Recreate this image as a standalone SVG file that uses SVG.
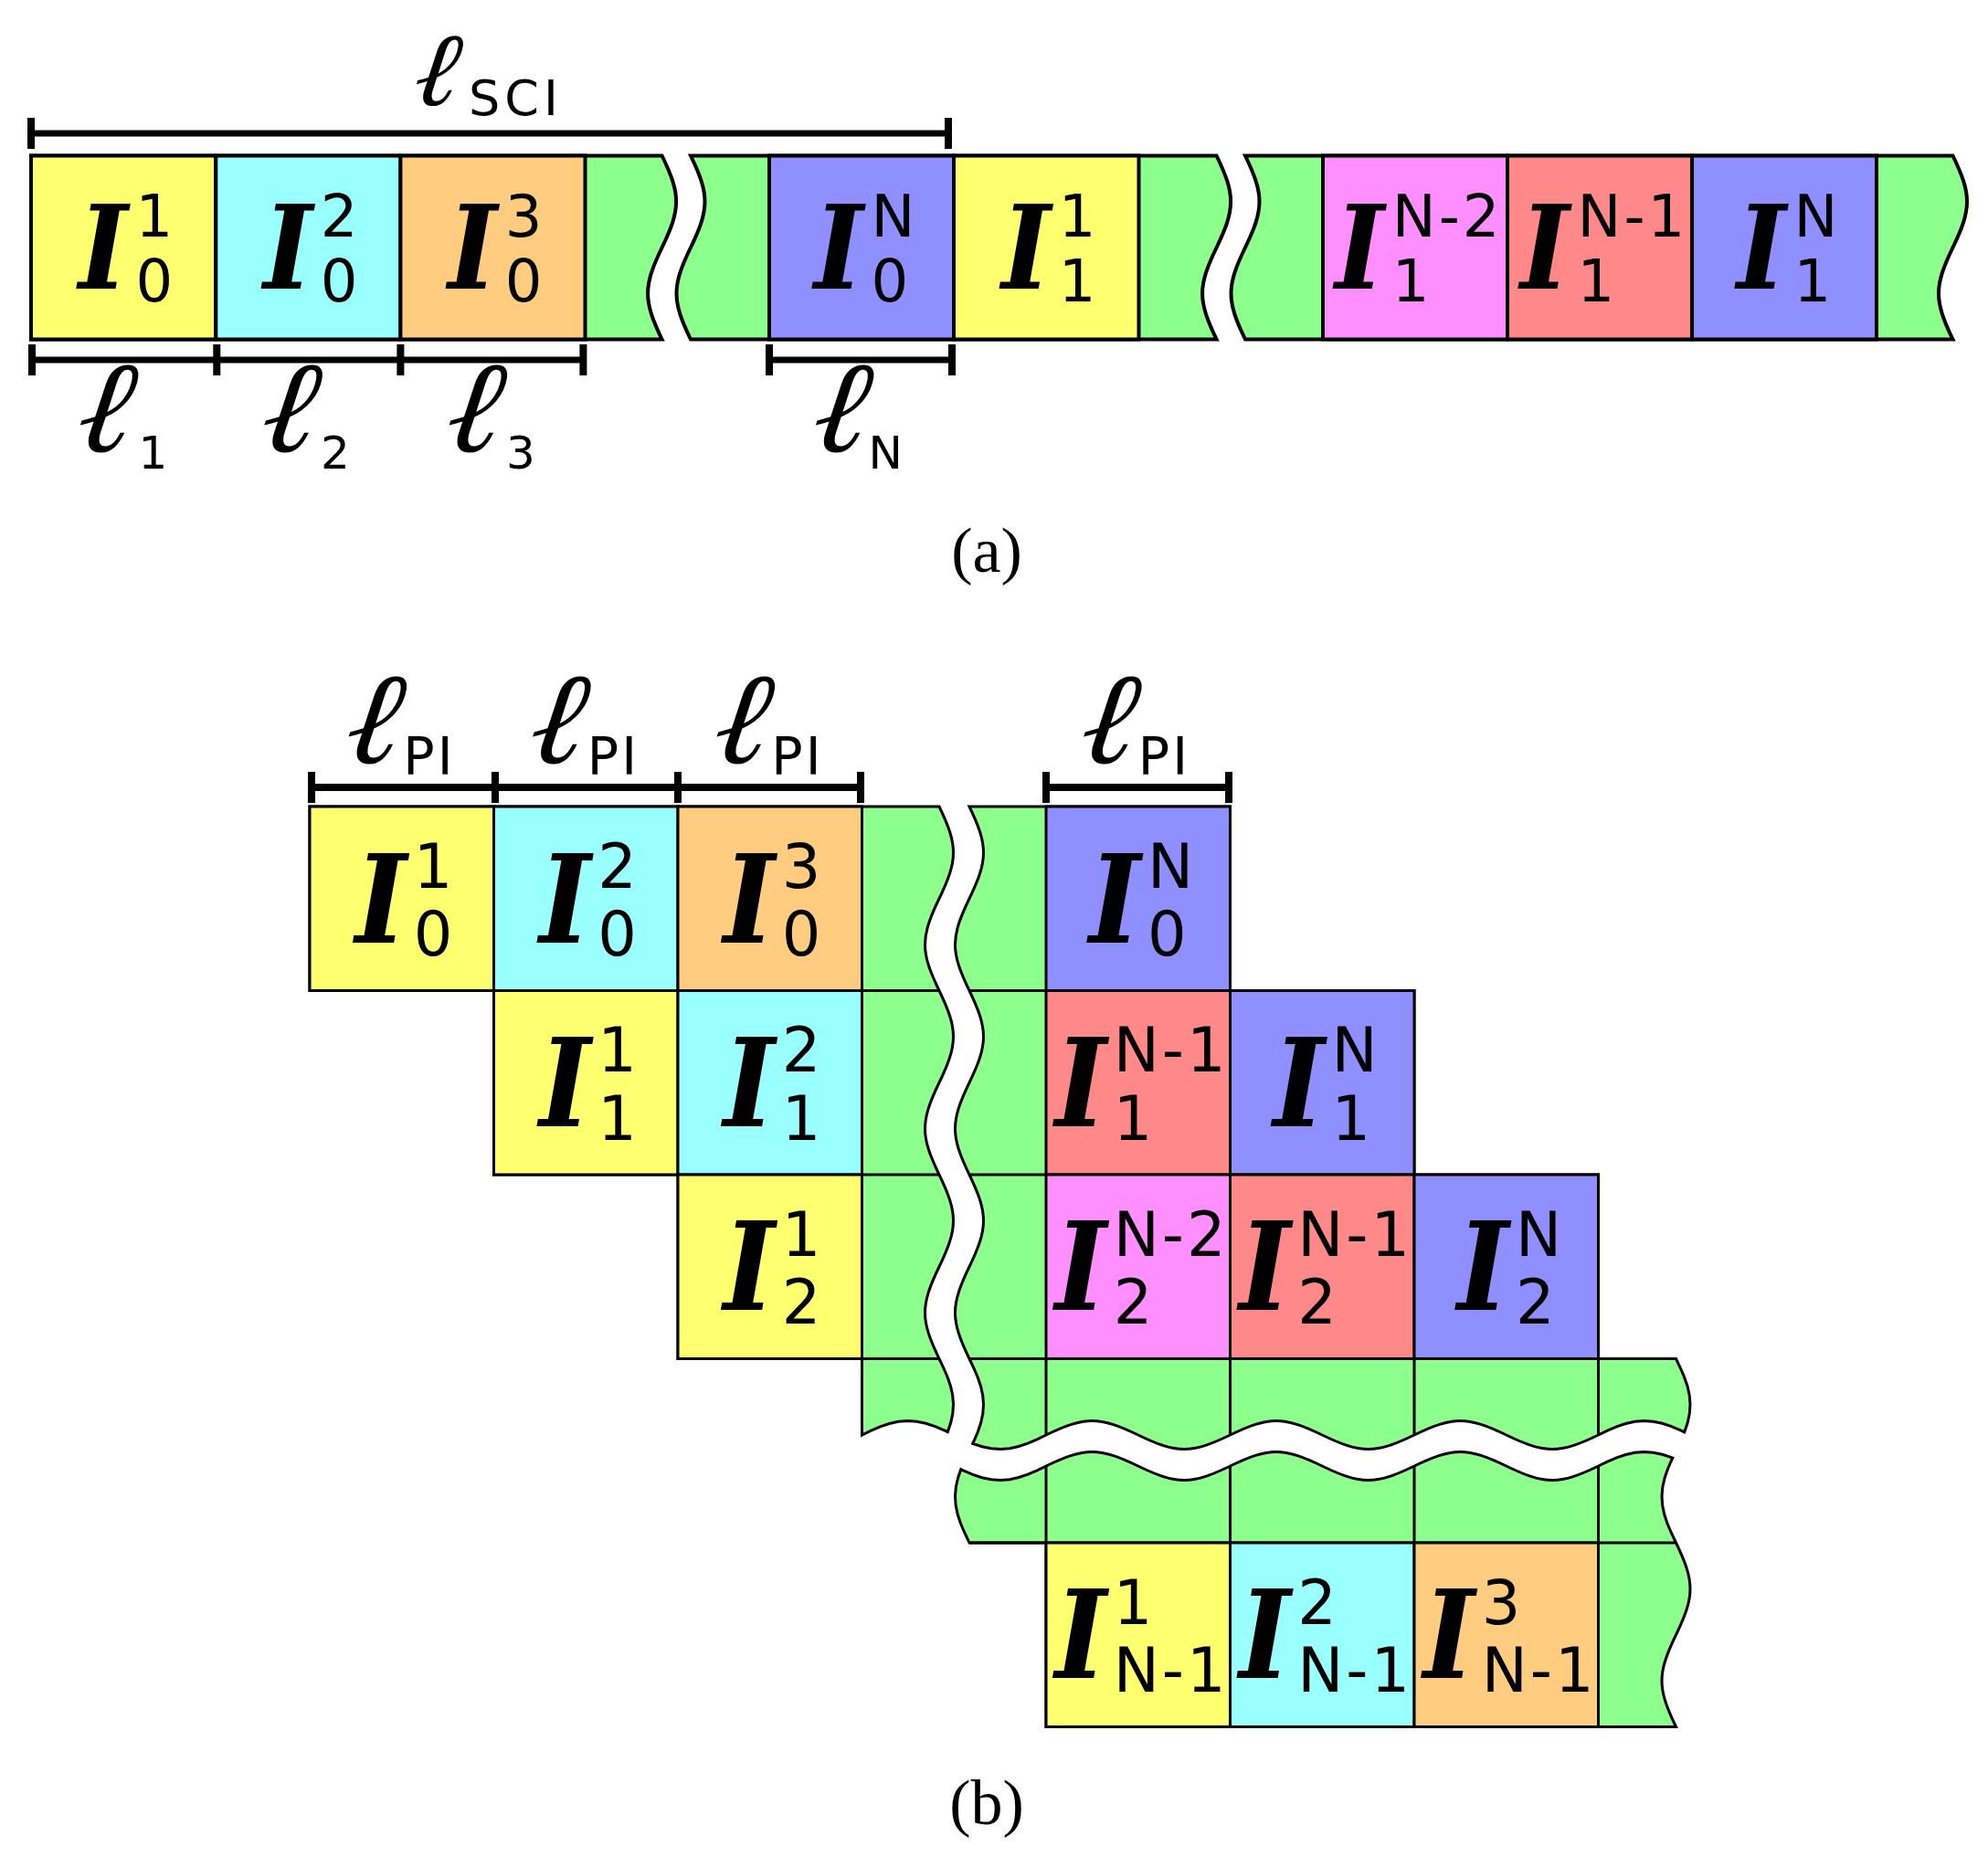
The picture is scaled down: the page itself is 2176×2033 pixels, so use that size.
<svg xmlns="http://www.w3.org/2000/svg" width="2176" height="2033" viewBox="0 0 2176 2033">
<style>
.g{fill:#8CFF8C;stroke:#000;stroke-linejoin:miter}
.ga{stroke-width:4}
.gb{stroke-width:3}
.ca{stroke:#000;stroke-width:4}
.cb{stroke:#000;stroke-width:3}
.y{fill:#FFFF70}.c{fill:#99FFFF}.o{fill:#FFCC80}.p{fill:#8F8FFF}.k{fill:#FF8FFF}.r{fill:#FF8888}
.grid{fill:none;stroke:#000;stroke-width:3}
.bar{stroke:#000;fill:none}
.I{font-family:"DejaVu Serif",serif;font-style:italic;font-weight:bold;font-size:128px}
.Ib{font-family:"DejaVu Serif",serif;font-style:italic;font-weight:bold;font-size:134px}
.s{font-family:"DejaVu Sans",sans-serif;font-size:64px}
.sb{font-family:"DejaVu Sans",sans-serif;font-size:67px}
.n{letter-spacing:3px}
.ell{font-family:"DejaVu Serif",serif;font-style:italic;font-weight:bold;font-size:142px}
.ells{font-family:"DejaVu Serif",serif;font-style:italic;font-weight:bold;font-size:114px}
.ls{font-family:"DejaVu Sans",sans-serif;font-size:50px}
.lss{font-family:"DejaVu Sans",sans-serif;font-size:54px;letter-spacing:5px}
.lsb{font-family:"DejaVu Sans",sans-serif;font-size:57px;letter-spacing:3px}
.cap{font-family:"Liberation Serif",serif;font-size:70px;text-anchor:middle}
</style>

<!-- (a) dimension bars -->
<g id="dims-a" class="bar">
<path d="M34,146 H1038" stroke-width="7"/>
<path d="M34,129 V163 M1038,129 V163" stroke-width="8"/>
<path d="M35,394 H638.5 M842,394 H1042" stroke-width="7"/>
<path d="M35,377 V411 M237.3,377 V411 M438.4,377 V411 M638.4,377 V411 M842,377 V411 M1042,377 V411" stroke-width="8"/>
</g>
<g id="labels-a">
<text class="ells" x="452" y="115" transform="matrix(1 0 -0.15 1 17.25 0)">ℓ</text><text class="lss" x="513" y="126">SCI</text>
<g transform="matrix(1 0 -0.15 1 74.1 0)">
<text class="ell" x="83" y="494">ℓ</text>
<text class="ell" x="284.6" y="494">ℓ</text>
<text class="ell" x="486.7" y="494">ℓ</text>
<text class="ell" x="888" y="494">ℓ</text>
</g>
<text class="ls" x="151.5" y="512.5">1</text>
<text class="ls" x="351" y="512.5">2</text>
<text class="ls" x="554" y="512.5">3</text>
<text class="ls" x="950.5" y="512.5">N</text>
</g>

<!-- (a) strip pieces -->
<g id="strip-a-piece1"><path class="g ga" d="M34,170.5 H724.6 C745.27,213.15 745.27,228.35 724.6,271 S703.93,328.85 724.6,371.5 H34 Z"/></g>
<g id="strip-a-piece2"><path class="g ga" d="M756,170.5 H1331.6 C1352.27,213.15 1352.27,228.35 1331.6,271 S1310.93,328.85 1331.6,371.5 H756 C735.33,328.85 735.33,313.65 756,271 S776.67,213.15 756,170.5 Z"/></g>
<g id="strip-a-piece3"><path class="g ga" d="M1363,170.5 H2137.5 C2158.17,213.15 2158.17,228.35 2137.5,271 S2116.83,328.85 2137.5,371.5 H1363 C1342.33,328.85 1342.33,313.65 1363,271 S1383.67,213.15 1363,170.5 Z"/></g>

<g id="a-I01"><rect class="ca y" x="34" y="170.5" width="202.3" height="201"/><text class="I" x="85.95" y="315.8" transform="matrix(0.9 0 0 1 8.595 0)">I</text><text class="s" x="148.45" y="259">1</text><text class="s" x="148.45" y="329.5">0</text></g>
<g id="a-I02"><rect class="ca c" x="236.3" y="170.5" width="202.1" height="201"/><text class="I" x="288.15" y="315.8" transform="matrix(0.9 0 0 1 28.815 0)">I</text><text class="s" x="350.65" y="259">2</text><text class="s" x="350.65" y="329.5">0</text></g>
<g id="a-I03"><rect class="ca o" x="438.4" y="170.5" width="202.1" height="201"/><text class="I" x="490.25" y="315.8" transform="matrix(0.9 0 0 1 49.025 0)">I</text><text class="s" x="552.75" y="259">3</text><text class="s" x="552.75" y="329.5">0</text></g>
<g id="a-I0N"><rect class="ca p" x="842" y="170.5" width="202" height="201"/><text class="I" x="890.95" y="315.8" transform="matrix(0.9 0 0 1 89.095 0)">I</text><text class="s" x="953.45" y="259">N</text><text class="s" x="953.45" y="329.5">0</text></g>
<g id="a-I11"><rect class="ca y" x="1044" y="170.5" width="202.5" height="201"/><text class="I" x="1096.2" y="315.8" transform="matrix(0.9 0 0 1 109.62 0)">I</text><text class="s" x="1158.7" y="259">1</text><text class="s" x="1158.7" y="329.5">1</text></g>
<g id="a-I1N-2"><rect class="ca k" x="1448" y="170.5" width="202" height="201"/><text class="I" x="1461.25" y="315.8" transform="matrix(0.9 0 0 1 146.125 0)">I</text><text class="s n" x="1523.75" y="259">N-2</text><text class="s" x="1523.75" y="329.5">1</text></g>
<g id="a-I1N-1"><rect class="ca r" x="1650" y="170.5" width="202" height="201"/><text class="I" x="1664" y="315.8" transform="matrix(0.9 0 0 1 166.4 0)">I</text><text class="s n" x="1726.5" y="259">N-1</text><text class="s" x="1726.5" y="329.5">1</text></g>
<g id="a-I1N"><rect class="ca p" x="1852" y="170.5" width="202" height="201"/><text class="I" x="1900.95" y="315.8" transform="matrix(0.9 0 0 1 190.095 0)">I</text><text class="s" x="1963.45" y="259">N</text><text class="s" x="1963.45" y="329.5">1</text></g>

<text id="cap-a" class="cap" x="1080" y="626">(a)</text>

<!-- (b) dimension bars -->
<g id="dims-b" class="bar">
<path d="M341,862 H942 M1145,862 H1345" stroke-width="8"/>
<path d="M341,845 V879 M542,845 V879 M742,845 V879 M942,845 V879 M1145,845 V879 M1345,845 V879" stroke-width="8"/>
</g>
<g id="labels-b">
<g transform="matrix(1 0 -0.15 1 125.25 0)">
<text class="ell" x="376.7" y="835">ℓ</text>
<text class="ell" x="578.2" y="835">ℓ</text>
<text class="ell" x="779.7" y="835">ℓ</text>
<text class="ell" x="1181.2" y="835">ℓ</text>
</g>
<text class="lsb" x="441.3" y="848.3">PI</text>
<text class="lsb" x="642.8" y="848.3">PI</text>
<text class="lsb" x="844.3" y="848.3">PI</text>
<text class="lsb" x="1245.8" y="848.3">PI</text>
</g>

<!-- (b) green pieces -->
<g id="b-piece-upper-left"><path class="g gb" d="M339,883 H1028 C1048.67,925.76 1048.67,940.99 1028,983.75 S1007.33,1041.74 1028,1084.5 S1048.67,1142.49 1028,1185.25 S1007.33,1243.24 1028,1286 S1048.67,1343.99 1028,1386.75 S1007.33,1444.74 1028,1487.5 L1032.76,1497.5 L1037.05,1507.5 L1040.48,1517.5 L1042.7,1527.5 L1043.5,1537.5 L1042.81,1547.5 L1040.69,1557.5 L1037.3,1567.6 L1033.5,1565.9 L1023.5,1561.65 L1013.5,1558.31 L1003.5,1556.19 L993.5,1555.5 L983.5,1556.3 L973.5,1558.52 L963.5,1561.95 L953.5,1566.24 L943.5,1571 V1487.5 H742 V1286 H540.5 V1084.5 H339 Z"/></g>
<g id="b-piece-upper-right"><path class="g gb" d="M1061,883 H1346.5 V1084.5 H1548 V1286 H1749.5 V1487.5 H1834.5 L1839.26,1497.5 L1843.55,1507.5 L1846.98,1517.5 L1849.2,1527.5 L1850,1537.5 L1849.31,1547.5 L1847.19,1557.5 L1843.7,1567.9 L1839.5,1565.9 L1829.5,1561.65 L1819.5,1558.31 L1809.5,1556.19 L1799.5,1555.5 L1789.5,1556.3 L1779.5,1558.52 L1769.5,1561.95 L1759.5,1566.24 L1749.5,1571 C1706.74,1591.67 1691.51,1591.67 1648.75,1571 S1590.76,1550.33 1548,1571 S1490.01,1591.67 1447.25,1571 S1389.26,1550.33 1346.5,1571 S1288.51,1591.67 1245.75,1571 S1187.76,1550.33 1145,1571 L1135,1575.76 L1125,1580.05 L1115,1583.48 L1105,1585.7 L1095,1586.5 L1085,1585.81 L1075,1583.69 L1064.7,1580.3 L1066.1,1577.5 L1070.35,1567.5 L1073.69,1557.5 L1075.81,1547.5 L1076.5,1537.5 L1075.7,1527.5 L1073.48,1517.5 L1070.05,1507.5 L1065.76,1497.5 L1061,1487.5 C1040.33,1444.74 1040.33,1429.51 1061,1386.75 S1081.67,1328.76 1061,1286 S1040.33,1228.01 1061,1185.25 S1081.67,1127.26 1061,1084.5 S1040.33,1026.51 1061,983.75 S1081.67,925.76 1061,883 Z"/></g>
<g id="b-piece-lower"><path class="g gb" d="M1051.8,1608.6 L1055,1610.1 L1065,1614.35 L1075,1617.69 L1085,1619.81 L1095,1620.5 L1105,1619.7 L1115,1617.48 L1125,1614.05 L1135,1609.76 L1145,1605 C1187.76,1584.33 1202.99,1584.33 1245.75,1605 S1303.74,1625.67 1346.5,1605 S1404.49,1584.33 1447.25,1605 S1505.24,1625.67 1548,1605 S1605.99,1584.33 1648.75,1605 S1706.74,1625.67 1749.5,1605 L1759.5,1600.24 L1769.5,1595.95 L1779.5,1592.52 L1789.5,1590.3 L1799.5,1589.5 L1809.5,1590.19 L1819.5,1592.31 L1829.5,1595.65 L1830.8,1596.1 L1830.1,1597.5 L1825.74,1607.5 L1822.24,1617.5 L1819.93,1627.5 L1819.01,1637.5 L1819.59,1647.5 L1821.6,1657.5 L1824.87,1667.5 L1829.07,1677.5 L1834.5,1689 C1855.17,1731.76 1855.17,1746.99 1834.5,1789.75 S1813.83,1847.74 1834.5,1890.5 H1145 V1689 H1061 L1055.57,1677.5 L1051.37,1667.5 L1048.1,1657.5 L1046.09,1647.5 L1045.51,1637.5 L1046.43,1627.5 L1048.74,1617.5 Z"/></g>

<g id="b-grid-lines">
<path class="grid" d="M943.5,1084.5 H1028 M943.5,1286 H1028 M943.5,1487.5 H1028 M943.5,883 V1571 M1061,1084.5 H1145 M1061,1286 H1145 M1061,1487.5 H1834.5 M1145,1487.5 V1571 M1346.5,1487.5 V1571 M1548,1487.5 V1571 M1749.5,1487.5 V1571 M1145,1605 V1689 M1346.5,1605 V1689 M1548,1605 V1689 M1749.5,1605 V1890.5 M1061,1689 H1834.5"/>
</g>

<!-- (b) cells -->
<g id="b-I01"><rect class="cb y" x="339" y="883" width="201.5" height="201.5"/><text class="Ib" x="388.75" y="1031.5" transform="matrix(0.9 0 0 1 38.875 0)">I</text><text class="sb" x="452.75" y="971.5">1</text><text class="sb" x="452.75" y="1046">0</text></g>
<g id="b-I02"><rect class="cb c" x="540.5" y="883" width="201.5" height="201.5"/><text class="Ib" x="590.25" y="1031.5" transform="matrix(0.9 0 0 1 59.025 0)">I</text><text class="sb" x="654.25" y="971.5">2</text><text class="sb" x="654.25" y="1046">0</text></g>
<g id="b-I03"><rect class="cb o" x="742" y="883" width="201.5" height="201.5"/><text class="Ib" x="791.75" y="1031.5" transform="matrix(0.9 0 0 1 79.175 0)">I</text><text class="sb" x="855.75" y="971.5">3</text><text class="sb" x="855.75" y="1046">0</text></g>
<g id="b-I0N"><rect class="cb p" x="1145" y="883" width="201.5" height="201.5"/><text class="Ib" x="1192" y="1031.5" transform="matrix(0.9 0 0 1 119.2 0)">I</text><text class="sb" x="1256" y="971.5">N</text><text class="sb" x="1256" y="1046">0</text></g>

<g id="b-I11"><rect class="cb y" x="540.5" y="1084.5" width="201.5" height="201.5"/><text class="Ib" x="590.25" y="1233" transform="matrix(0.9 0 0 1 59.025 0)">I</text><text class="sb" x="654.25" y="1173">1</text><text class="sb" x="654.25" y="1247.5">1</text></g>
<g id="b-I12"><rect class="cb c" x="742" y="1084.5" width="201.5" height="201.5"/><text class="Ib" x="791.75" y="1233" transform="matrix(0.9 0 0 1 79.175 0)">I</text><text class="sb" x="855.75" y="1173">2</text><text class="sb" x="855.75" y="1247.5">1</text></g>
<g id="b-I1N-1"><rect class="cb r" x="1145" y="1084.5" width="201.5" height="201.5"/><text class="Ib" x="1154.75" y="1233" transform="matrix(0.9 0 0 1 115.475 0)">I</text><text class="sb n" x="1218.75" y="1173">N-1</text><text class="sb" x="1218.75" y="1247.5">1</text></g>
<g id="b-I1N"><rect class="cb p" x="1346.5" y="1084.5" width="201.5" height="201.5"/><text class="Ib" x="1393.5" y="1233" transform="matrix(0.9 0 0 1 139.35 0)">I</text><text class="sb" x="1457.5" y="1173">N</text><text class="sb" x="1457.5" y="1247.5">1</text></g>

<g id="b-I21"><rect class="cb y" x="742" y="1286" width="201.5" height="201.5"/><text class="Ib" x="791.75" y="1434.5" transform="matrix(0.9 0 0 1 79.175 0)">I</text><text class="sb" x="855.75" y="1374.5">1</text><text class="sb" x="855.75" y="1449">2</text></g>
<g id="b-I2N-2"><rect class="cb k" x="1145" y="1286" width="201.5" height="201.5"/><text class="Ib" x="1154.75" y="1434.5" transform="matrix(0.9 0 0 1 115.475 0)">I</text><text class="sb n" x="1218.75" y="1374.5">N-2</text><text class="sb" x="1218.75" y="1449">2</text></g>
<g id="b-I2N-1"><rect class="cb r" x="1346.5" y="1286" width="201.5" height="201.5"/><text class="Ib" x="1356.25" y="1434.5" transform="matrix(0.9 0 0 1 135.625 0)">I</text><text class="sb n" x="1420.25" y="1374.5">N-1</text><text class="sb" x="1420.25" y="1449">2</text></g>
<g id="b-I2N"><rect class="cb p" x="1548" y="1286" width="201.5" height="201.5"/><text class="Ib" x="1595" y="1434.5" transform="matrix(0.9 0 0 1 159.5 0)">I</text><text class="sb" x="1659" y="1374.5">N</text><text class="sb" x="1659" y="1449">2</text></g>

<g id="b-IN-1_1"><rect class="cb y" x="1145" y="1689" width="201.5" height="201.5"/><text class="Ib" x="1154.75" y="1837.5" transform="matrix(0.9 0 0 1 115.475 0)">I</text><text class="sb" x="1218.75" y="1777.5">1</text><text class="sb n" x="1218.75" y="1852">N-1</text></g>
<g id="b-IN-1_2"><rect class="cb c" x="1346.5" y="1689" width="201.5" height="201.5"/><text class="Ib" x="1356.25" y="1837.5" transform="matrix(0.9 0 0 1 135.625 0)">I</text><text class="sb" x="1420.25" y="1777.5">2</text><text class="sb n" x="1420.25" y="1852">N-1</text></g>
<g id="b-IN-1_3"><rect class="cb o" x="1548" y="1689" width="201.5" height="201.5"/><text class="Ib" x="1557.75" y="1837.5" transform="matrix(0.9 0 0 1 155.775 0)">I</text><text class="sb" x="1621.75" y="1777.5">3</text><text class="sb n" x="1621.75" y="1852">N-1</text></g>

<text id="cap-b" class="cap" x="1080" y="1997">(b)</text>
</svg>
